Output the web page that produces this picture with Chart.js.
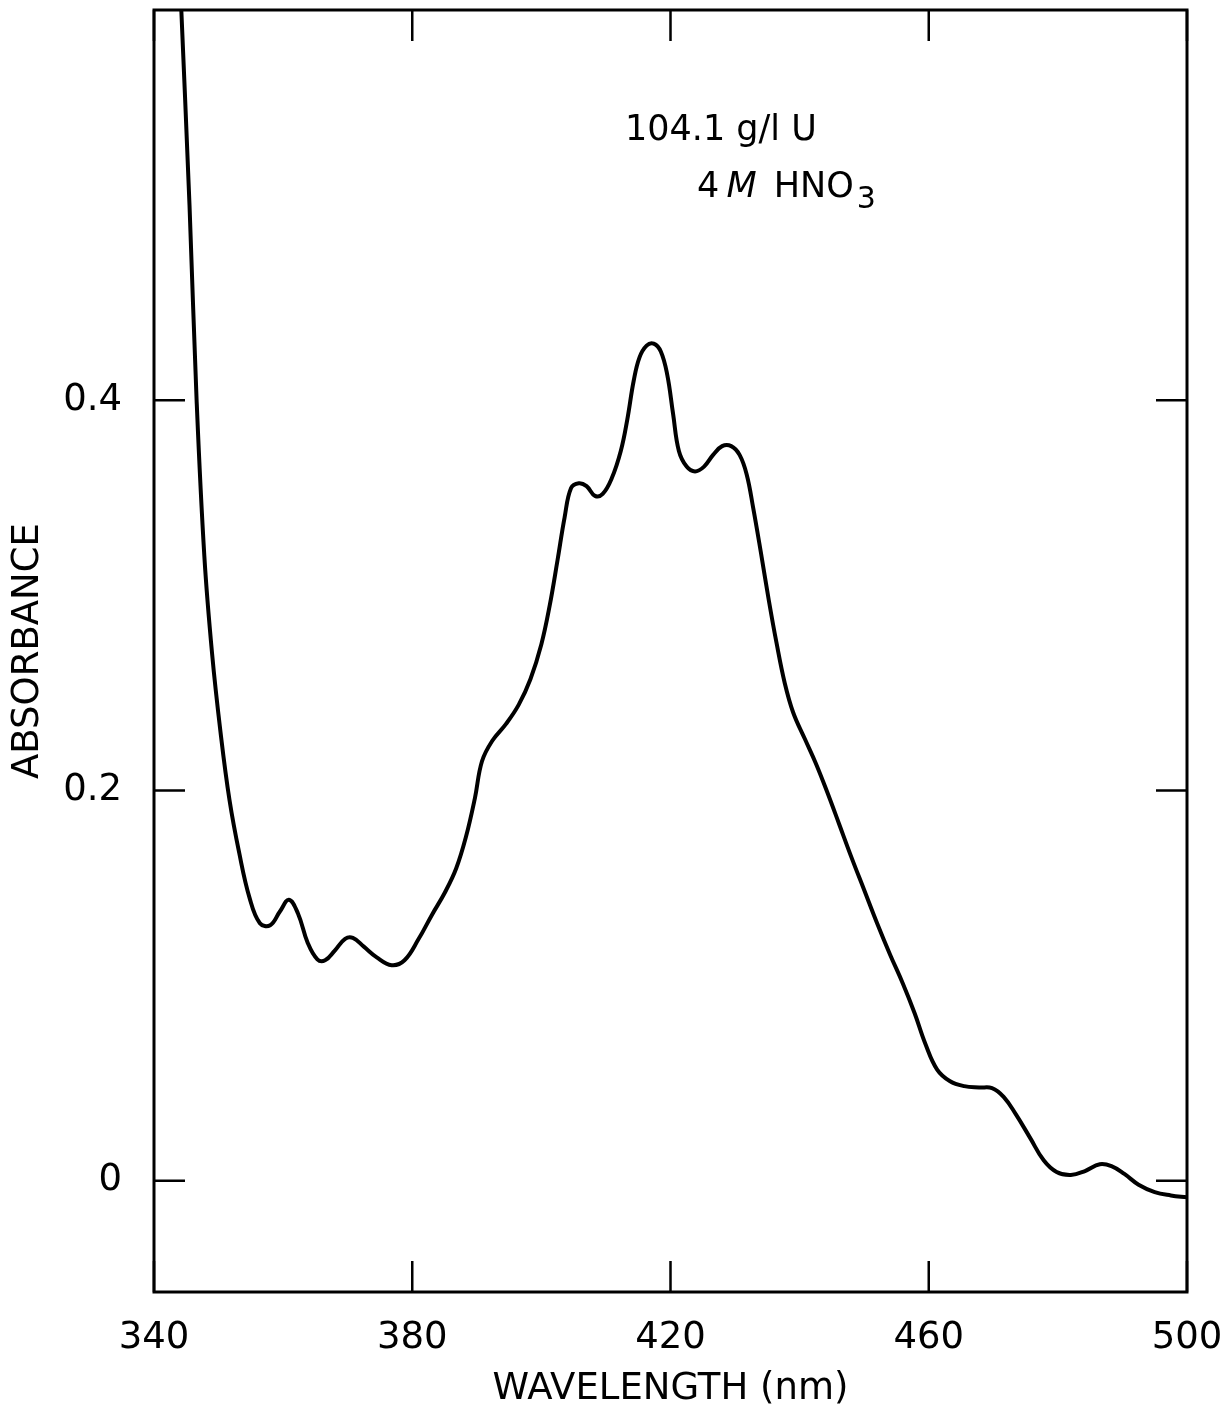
<!DOCTYPE html>
<html>
<head>
<meta charset="utf-8">
<script src="https://cdn.jsdelivr.net/npm/chart.js@4"></script>
<style>
  html, body { margin: 0; padding: 0; background: #fff; }
  #box { width: 1227px; height: 1414px; }
</style>
</head>
<body>
<div id="box"><canvas id="grafico" width="1227" height="1414"></canvas></div>
<script>
// wavelength (nm) and absorbance
const longitudes = [
  344.1, 345.5, 346.6, 347.8, 349.0, 350.3, 351.7, 353.2, 354.8,
  356.4, 358.0, 359.5, 360.9, 362.3, 363.8, 365.3, 366.5, 368.0, 369.6,
  370.8, 372.5, 374.5, 376.8, 378.8, 381.0, 383.0, 385.1, 386.8, 388.3,
  389.7, 390.8, 392.4, 394.5, 396.5, 398.3, 400.0, 401.3, 402.5, 403.6,
  404.6, 405.8, 407.0, 408.3, 409.5, 410.9, 412.3, 413.3, 414.3, 415.2,
  416.3, 417.4, 418.5, 419.5, 420.4, 421.3, 422.5, 423.8, 425.2, 426.6,
  428.0, 429.4, 430.7, 431.8, 432.8, 434.0, 435.2, 436.4, 437.7, 439.0,
  440.8, 442.5, 444.3, 446.1, 448.0, 450.0, 452.0, 454.0, 456.0, 457.8,
  459.5, 461.3, 463.3, 465.5, 467.8, 469.8, 471.6, 473.5, 475.7, 477.8,
  479.8, 482.0, 484.2, 486.5, 488.3, 490.3, 492.5, 495.0, 497.5, 500.0
];
const absorbancia = [
  0.610, 0.500, 0.400, 0.320, 0.270, 0.230, 0.195, 0.168, 0.145,
  0.132, 0.131, 0.138, 0.144, 0.137, 0.122, 0.1135, 0.113, 0.118, 0.124,
  0.1245, 0.120, 0.1145, 0.1105, 0.113, 0.124, 0.136, 0.148, 0.160, 0.176,
  0.196, 0.215, 0.2255, 0.234, 0.244, 0.257, 0.275, 0.295, 0.318, 0.340,
  0.355, 0.3575, 0.356, 0.351, 0.352, 0.360, 0.374, 0.390, 0.410, 0.422,
  0.428, 0.429, 0.425, 0.413, 0.393, 0.374, 0.366, 0.3635, 0.366, 0.372,
  0.3765, 0.3765, 0.372, 0.362, 0.345, 0.322, 0.298, 0.276, 0.255, 0.240,
  0.2265, 0.214, 0.199, 0.183, 0.166, 0.149, 0.132, 0.116, 0.101, 0.086,
  0.070, 0.057, 0.0510, 0.0485, 0.0478, 0.0475, 0.043, 0.034, 0.022, 0.0105,
  0.0045, 0.0030, 0.0050, 0.0085, 0.0075, 0.0035, -0.0020, -0.0058, -0.0075, -0.0085
];
const ticksX = [340, 380, 420, 460, 500];
const ticksY = [0, 0.2, 0.4];

const fuente = "'DejaVu Sans', sans-serif";
const ctx = document.getElementById('grafico').getContext('2d');

// frame, inward ticks on all four sides and the sample note
const marco = {
  id: 'marco',
  afterDraw(chart) {
    const c = chart.ctx;
    const a = chart.chartArea;
    const sx = chart.scales.x, sy = chart.scales.y;
    const largo = 31;
    c.save();
    c.strokeStyle = '#000';
    c.lineWidth = 3;
    c.strokeRect(a.left, a.top, a.right - a.left, a.bottom - a.top);
    c.lineWidth = 2.5;
    c.beginPath();
    ticksX.forEach(v => {
      const px = sx.getPixelForValue(v);
      c.moveTo(px, a.bottom); c.lineTo(px, a.bottom - largo);
      c.moveTo(px, a.top); c.lineTo(px, a.top + largo);
    });
    ticksY.forEach(v => {
      const py = sy.getPixelForValue(v);
      c.moveTo(a.left, py); c.lineTo(a.left + largo, py);
      c.moveTo(a.right, py); c.lineTo(a.right - largo, py);
    });
    c.stroke();

    c.fillStyle = '#000';
    c.textBaseline = 'alphabetic';
    c.font = '35px ' + fuente;
    c.fillText('104.1 g/l U', 625, 140);
    let x = 697;
    c.fillText('4', x, 197); x += c.measureText('4 ').width - 4;
    c.font = 'italic 35px ' + fuente;
    c.fillText('M', x, 197); x += c.measureText('M ').width + 6;
    c.font = '35px ' + fuente;
    c.fillText('HNO', x, 197); x += c.measureText('HNO').width + 3;
    c.font = '30px ' + fuente;
    c.fillText('3', x, 208);
    c.restore();
  }
};

new Chart(ctx, {
  type: 'line',
  data: {
    datasets: [{
      label: 'absorbancia',
      data: longitudes.map((l, i) => ({ x: l, y: absorbancia[i] })),
      borderColor: '#000',
      borderWidth: 4,
      pointRadius: 0,
      tension: 0.4,
      fill: false
    }]
  },
  options: {
    responsive: false,
    animation: false,
    layout: { padding: { top: 10, right: 40, left: 0, bottom: 0 } },
    plugins: { legend: { display: false }, tooltip: { enabled: false } },
    scales: {
      x: {
        type: 'linear',
        min: 340,
        max: 500,
        afterBuildTicks: s => { s.ticks = ticksX.map(v => ({ value: v })); },
        afterFit: s => { s.height = 122; s.paddingLeft = 0; s.paddingRight = 0; },
        grid: { display: false },
        border: { display: false },
        ticks: { color: '#000', padding: 16, font: { family: fuente, size: 37 }, maxRotation: 0 },
        title: {
          display: true,
          text: 'WAVELENGTH (nm)',
          color: '#000',
          font: { family: fuente, size: 37 },
          padding: { top: 0, bottom: 2 }
        }
      },
      y: {
        min: -0.057,
        max: 0.6,
        afterBuildTicks: s => { s.ticks = ticksY.map(v => ({ value: v })); },
        afterFit: s => { s.width = 154; s.paddingTop = 0; s.paddingBottom = 0; },
        grid: { display: false },
        border: { display: false },
        ticks: {
          color: '#000',
          padding: 24,
          font: { family: fuente, size: 37 },
          callback: v => v === 0 ? '0' : v.toFixed(1)
        },
        title: {
          display: true,
          text: 'ABSORBANCE',
          color: '#000',
          font: { family: fuente, size: 37 },
          padding: { top: 6, bottom: 0 }
        }
      }
    }
  },
  plugins: [marco]
});
</script>
</body>
</html>
